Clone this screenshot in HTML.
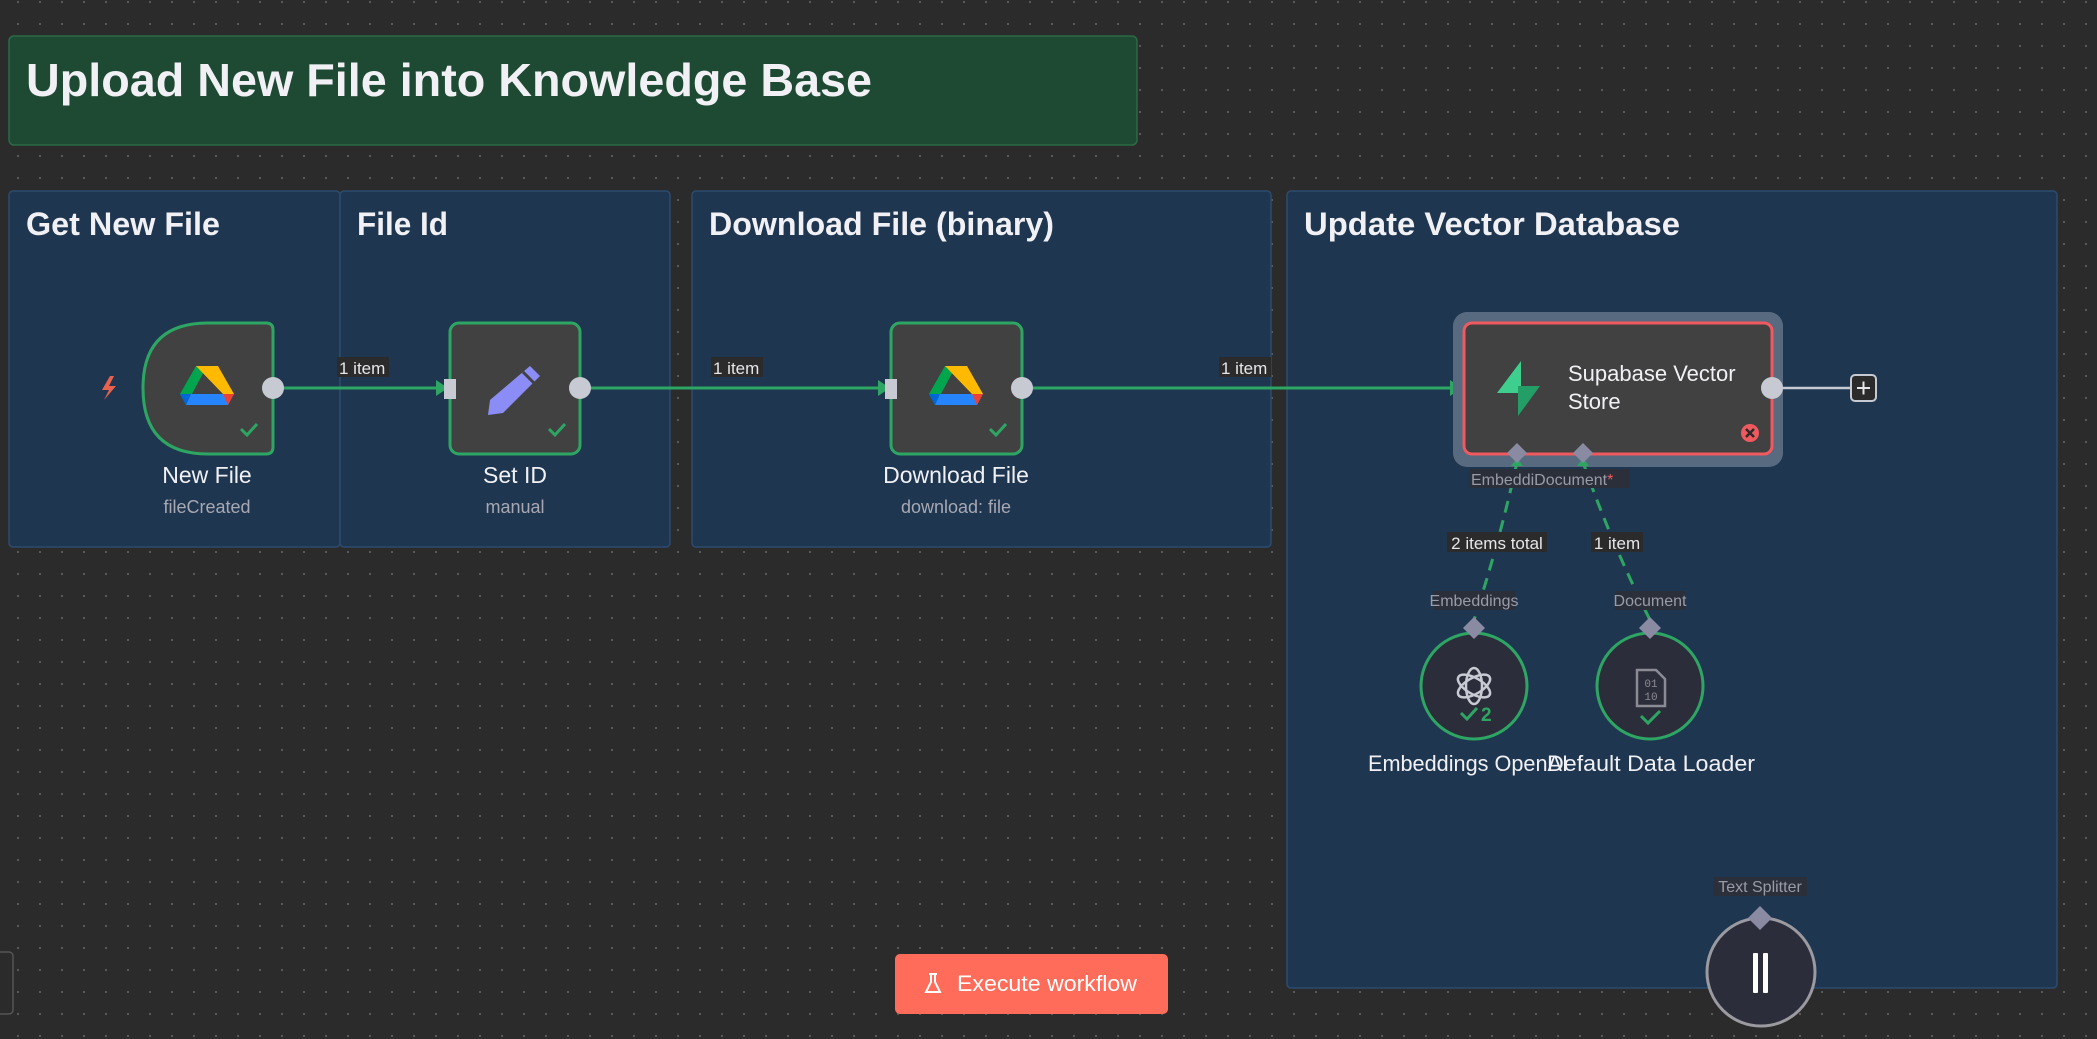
<!DOCTYPE html>
<html><head><meta charset="utf-8"><style>
html,body{margin:0;padding:0;width:2097px;height:1039px;overflow:hidden;background:#2b2b2b;}
body{background-color:#2b2b2b;background-image:radial-gradient(circle,#5a5a5a 1px,transparent 1.3px);background-size:22px 22px;background-position:7px 145px;font-family:"Liberation Sans",sans-serif;}
svg{position:absolute;left:0;top:0}
</style></head><body>
<svg width="2097" height="1039" viewBox="0 0 2097 1039" font-family="Liberation Sans, sans-serif">
<rect x="9" y="36" width="1128" height="109" rx="5" fill="#1e4a33" stroke="#2b6b45" stroke-width="1.5"/>
<text x="26" y="96" font-size="46" font-weight="bold" fill="#f1f1f5" textLength="846" lengthAdjust="spacingAndGlyphs">Upload New File into Knowledge Base</text>
<rect x="9" y="191" width="331" height="356" rx="4" fill="#1f3650" stroke="#2c4b6e" stroke-width="1.5"/>
<rect x="340" y="191" width="330" height="356" rx="4" fill="#1f3650" stroke="#2c4b6e" stroke-width="1.5"/>
<rect x="692" y="191" width="579" height="356" rx="4" fill="#1f3650" stroke="#2c4b6e" stroke-width="1.5"/>
<rect x="1287" y="191" width="770" height="797" rx="4" fill="#1f3650" stroke="#2c4b6e" stroke-width="1.5"/>
<g font-size="32" font-weight="bold" fill="#f1f1f5">
<text x="26" y="235" textLength="194" lengthAdjust="spacingAndGlyphs">Get New File</text>
<text x="357" y="235" textLength="91" lengthAdjust="spacingAndGlyphs">File Id</text>
<text x="709" y="235" textLength="345" lengthAdjust="spacingAndGlyphs">Download File (binary)</text>
<text x="1304" y="235" textLength="376" lengthAdjust="spacingAndGlyphs">Update Vector Database</text>
</g>
<g stroke="#2ea663" stroke-width="3" fill="none">
<line x1="273" y1="388" x2="440" y2="388"/>
<line x1="580" y1="388" x2="882" y2="388"/>
<line x1="1022" y1="388" x2="1454" y2="388"/>
</g>
<g fill="#2ea663">
<polygon points="436,380 448,388 436,396"/>
<polygon points="878,380 890,388 878,396"/>
<polygon points="1450,380 1462,388 1450,396"/>
</g>
<g font-size="17" fill="#e6e6ea">
<rect x="337" y="357" width="52" height="20" fill="#2b2b2b"/>
<text x="339" y="374">1 item</text>
<rect x="711" y="357" width="52" height="20" fill="#2b2b2b"/>
<text x="713" y="374">1 item</text>
<rect x="1219" y="357" width="52" height="20" fill="#2b2b2b"/>
<text x="1221" y="374">1 item</text>
</g>
<path d="M110 376 L102 390 L109 390 L104 400 L116 386 L109 386 L114 376 Z" fill="#e8624f"/>
<path d="M208 323 H266 Q273 323 273 330 V447 Q273 454 266 454 H208 Q143 454 143 388 Q143 323 208 323 Z" fill="#414141" stroke="#2ea663" stroke-width="3"/>
<rect x="450" y="323" width="130" height="131" rx="9" fill="#414141" stroke="#2ea663" stroke-width="3"/>
<rect x="891" y="323" width="131" height="131" rx="9" fill="#414141" stroke="#2ea663" stroke-width="3"/>
<g>
<polygon points="207,366 196,366 180,394 186,405" fill="#00a54e"/>
<polygon points="196,366 218,366 234,394 223,394" fill="#ffba00"/>
<polygon points="186,405 191,394 234,394 228,405" fill="#2684fc"/>
<polygon points="180,394 191,394 186,405" fill="#0066da"/>
<polygon points="223,394 234,394 228,405" fill="#ea4335"/>
</g>
<g transform="translate(749,0)">
<polygon points="207,366 196,366 180,394 186,405" fill="#00a54e"/>
<polygon points="196,366 218,366 234,394 223,394" fill="#ffba00"/>
<polygon points="186,405 191,394 234,394 228,405" fill="#2684fc"/>
<polygon points="180,394 191,394 186,405" fill="#0066da"/>
<polygon points="223,394 234,394 228,405" fill="#ea4335"/>
</g>
<path d="M530 366 L540 376 L503 413 L488 415 L490 400 Z" fill="#8c8cf7"/>
<line x1="523" y1="372" x2="534" y2="383" stroke="#414141" stroke-width="3"/>
<g stroke="#2ea663" stroke-width="3" fill="none">
<polyline points="241,429 247,435 257,424"/>
<polyline points="549,429 555,435 565,424"/>
<polyline points="990,429 996,435 1006,424"/>
</g>
<g fill="#c7cad3">
<circle cx="273" cy="388" r="11"/>
<rect x="444" y="379" width="12" height="20"/>
<circle cx="580" cy="388" r="11"/>
<rect x="885" y="379" width="12" height="20"/>
<circle cx="1022" cy="388" r="11"/>
</g>
<g text-anchor="middle">
<text x="207" y="483" font-size="23" fill="#f1f1f5">New File</text>
<text x="207" y="513" font-size="18" fill="#a8a8b2">fileCreated</text>
<text x="515" y="483" font-size="23" fill="#f1f1f5">Set ID</text>
<text x="515" y="513" font-size="18" fill="#a8a8b2">manual</text>
<text x="956" y="483" font-size="23" fill="#f1f1f5">Download File</text>
<text x="956" y="513" font-size="18" fill="#a8a8b2">download: file</text>
</g>
<rect x="1453" y="312" width="330" height="155" rx="14" fill="#576a80"/>
<rect x="1464" y="323" width="308" height="131" rx="8" fill="#414141" stroke="#f05a5f" stroke-width="3"/>
<path d="M1521 361 L1497 393 L1521 393 Z" fill="#3ecf8e"/>
<path d="M1518 416 L1518 386 L1540 386 Z" fill="#249e67"/>
<text x="1568" y="381" font-size="22" fill="#f1f1f5">Supabase Vector</text>
<text x="1568" y="409" font-size="22" fill="#f1f1f5">Store</text>
<circle cx="1750" cy="433" r="9" fill="#f05a5f"/>
<path d="M1746 429 L1754 437 M1754 429 L1746 437" stroke="#2b2b2b" stroke-width="2.5"/>
<circle cx="1772" cy="388" r="11" fill="#c7cad3"/>
<line x1="1783" y1="388" x2="1851" y2="388" stroke="#c7cad3" stroke-width="2.5"/>
<rect x="1851" y="375" width="25" height="26" rx="4" fill="#2b2b2b" stroke="#c7cad3" stroke-width="2"/>
<path d="M1857 388 H1870 M1863.5 381.5 V394.5" stroke="#e6e6ea" stroke-width="2"/>
<g stroke="#2ea663" stroke-width="3" fill="none" stroke-dasharray="12,8">
<path d="M1517 462 Q1500 540 1474 620"/>
<path d="M1583 462 Q1610 540 1650 620"/>
</g>
<polygon points="1511,466 1517,458 1523,466" fill="#2ea663"/>
<polygon points="1577,466 1583,458 1589,466" fill="#2ea663"/>
<g fill="#8a8ba3">
<polygon points="1517,443 1527,453 1517,463 1507,453"/>
<polygon points="1583,443 1593,453 1583,463 1573,453"/>
</g>
<rect x="1470" y="469" width="160" height="19" fill="#2a2f3a"/>
<text x="1471" y="485" font-size="16" fill="#9a9ba8">EmbeddiDocument<tspan fill="#f05a5f">*</tspan></text>
<g font-size="17" fill="#e6e6ea" text-anchor="middle">
<rect x="1447" y="532" width="100" height="20" fill="#2b2b2b"/>
<text x="1497" y="549">2 items total</text>
<rect x="1591" y="532" width="52" height="20" fill="#2b2b2b"/>
<text x="1617" y="549">1 item</text>
</g>
<g font-size="16" fill="#9a9ba8" text-anchor="middle">
<rect x="1433" y="591" width="82" height="19" fill="#2a2f3a"/>
<text x="1474" y="606">Embeddings</text>
<rect x="1615" y="591" width="70" height="19" fill="#2a2f3a"/>
<text x="1650" y="606">Document</text>
<rect x="1713" y="877" width="94" height="19" fill="#2a2f3a"/>
<text x="1760" y="892">Text Splitter</text>
</g>
<circle cx="1474" cy="686" r="53" fill="#2c2d3a" stroke="#2ea663" stroke-width="3"/>
<circle cx="1650" cy="686" r="53" fill="#2c2d3a" stroke="#2ea663" stroke-width="3"/>
<g fill="#8a8ba3">
<polygon points="1474,617 1485,628 1474,639 1463,628"/>
<polygon points="1650,617 1661,628 1650,639 1639,628"/>
</g>
<g stroke="#c7cad3" stroke-width="2.5" fill="none">
<ellipse cx="1474" cy="686" rx="8" ry="18"/>
<ellipse cx="1474" cy="686" rx="8" ry="18" transform="rotate(60 1474 686)"/>
<ellipse cx="1474" cy="686" rx="8" ry="18" transform="rotate(-60 1474 686)"/>
</g>
<polyline points="1461,713 1467,719 1477,708" stroke="#2ea663" stroke-width="3" fill="none"/>
<text x="1481" y="721" font-size="19" fill="#2ea663" font-weight="bold">2</text>
<path d="M1637 670 H1656 L1665 679 V706 H1637 Z" fill="none" stroke="#8a8b95" stroke-width="2.5"/>
<text x="1651" y="687" font-size="11" fill="#8a8b95" text-anchor="middle" font-family="Liberation Mono, monospace">01</text>
<text x="1651" y="700" font-size="11" fill="#8a8b95" text-anchor="middle" font-family="Liberation Mono, monospace">10</text>
<polyline points="1641,716 1648,723 1660,711" stroke="#2ea663" stroke-width="3" fill="none"/>
<g font-size="22" fill="#f1f1f5">
<text x="1368" y="771" textLength="200" lengthAdjust="spacingAndGlyphs">Embeddings OpenAI</text>
<text x="1547" y="771" textLength="208" lengthAdjust="spacingAndGlyphs">Default Data Loader</text>
</g>
<circle cx="1761" cy="972" r="54" fill="#2c2d3a" stroke="#9a9aa0" stroke-width="3"/>
<polygon points="1760,906 1772,918 1760,930 1748,918" fill="#8a8ba3"/>
<rect x="1753" y="953" width="5" height="40" rx="1" fill="#fff"/>
<rect x="1763" y="953" width="5" height="40" rx="1" fill="#fff"/>
<rect x="895" y="954" width="273" height="60" rx="5" fill="#ff6d5a"/>
<path d="M929 974 h8 M931 974 v8 l-5 10 h14 l-5 -10 v-8" fill="none" stroke="#fff" stroke-width="2"/>
<text x="957" y="991" font-size="22" fill="#fff" textLength="180" lengthAdjust="spacingAndGlyphs">Execute workflow</text>
<rect x="-10" y="952" width="23" height="62" rx="4" fill="#2b2b2b" stroke="#555" stroke-width="1.5"/>
</svg>
</body></html>
